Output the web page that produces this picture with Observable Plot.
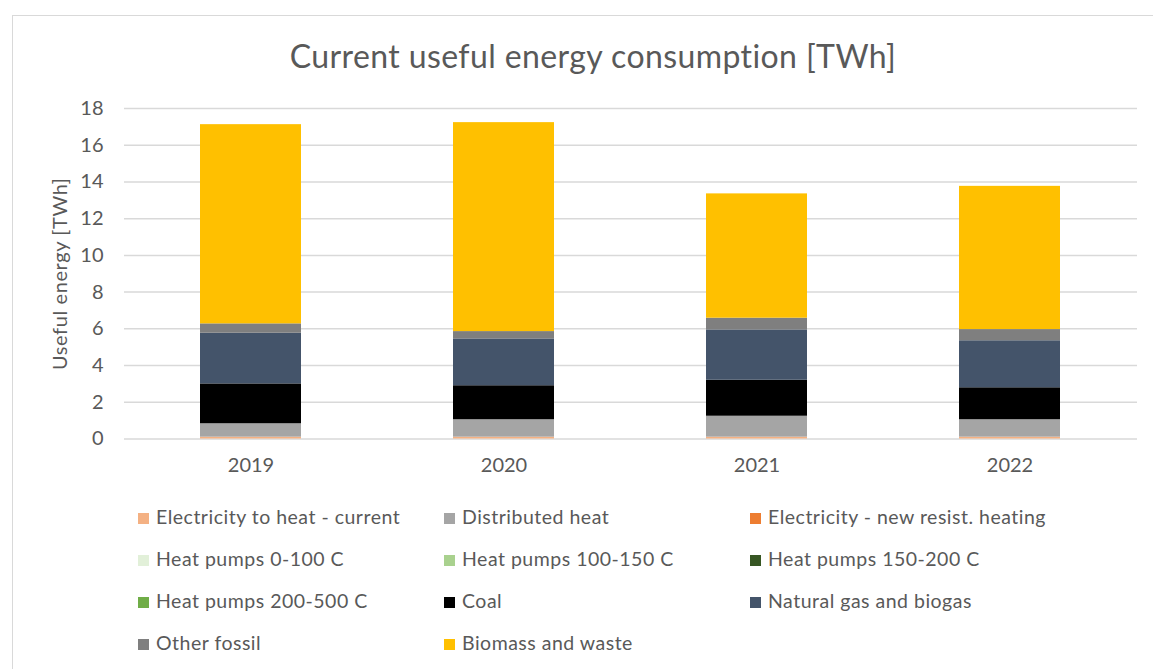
<!DOCTYPE html>
<html>
<head>
<meta charset="utf-8">
<script src="https://cdn.jsdelivr.net/npm/d3@7"></script>
<script src="https://cdn.jsdelivr.net/npm/@observablehq/plot@0.6"></script>
<style>
  html, body { margin: 0; padding: 0; background: #fff; }
  body { width: 1153px; height: 669px; position: relative; overflow: hidden; font-family: Lato, "Open Sans", sans-serif; color: #595959; }
  #frame { position: absolute; left: 12px; top: 15px; width: 1200px; height: 700px; border-left: 1px solid #d9d9d9; border-top: 1px solid #d9d9d9; }
  #title { position: absolute; left: 0; width: 1186px; top: 36px; text-align: center; font-size: 32px; letter-spacing: 0.4px; line-height: 40px; color: #595959; }
  #chart { position: absolute; left: 0; top: 0; }
  .leg { position: absolute; font-size: 19.5px; letter-spacing: 0.5px; line-height: 22px; color: #595959; white-space: nowrap; }
  .sw { position: absolute; width: 11px; height: 11px; }
</style>
</head>
<body>
<div id="frame"></div>
<div id="title">Current useful energy consumption [TWh]</div>
<div id="chart"></div>
<div id="legend"></div>
<script>
const years = ["2019", "2020", "2021", "2022"];
const seriesNames = [
  "Electricity to heat - current",
  "Distributed heat",
  "Electricity - new resist. heating",
  "Heat pumps 0-100 C",
  "Heat pumps 100-150 C",
  "Heat pumps 150-200 C",
  "Heat pumps 200-500 C",
  "Coal",
  "Natural gas and biogas",
  "Other fossil",
  "Biomass and waste"
];
const seriesColors = ["#F4B183", "#A5A5A5", "#ED7D31", "#E2F0D9", "#A9D18E", "#375623", "#70AD47", "#000000", "#44546A", "#7F7F7F", "#FFC000"];

const elecCurrent     = [0.10, 0.10, 0.10, 0.10];
const distributedHeat = [0.73, 0.95, 1.14, 0.95];
const elecNewResist   = [0, 0, 0, 0];
const hp0to100        = [0, 0, 0, 0];
const hp100to150      = [0, 0, 0, 0];
const hp150to200      = [0, 0, 0, 0];
const hp200to500      = [0, 0, 0, 0];
const coal            = [2.17, 1.85, 1.96, 1.74];
const naturalGas      = [2.76, 2.55, 2.74, 2.56];
const otherFossil     = [0.51, 0.40, 0.64, 0.61];
const biomassWaste    = [10.85, 11.38, 6.77, 7.80];

const yTicks = [0, 2, 4, 6, 8, 10, 12, 14, 16, 18];
const yLabel = "Useful energy [TWh]";

const seriesValues = [elecCurrent, distributedHeat, elecNewResist, hp0to100, hp100to150, hp150to200, hp200to500, coal, naturalGas, otherFossil, biomassWaste];
const rows = [];
years.forEach((yr, i) => {
  seriesNames.forEach((name, k) => rows.push({year: yr, series: name, value: seriesValues[k][i]}));
});

const chart = Plot.plot({
  width: 1153,
  height: 490,
  marginLeft: 124,
  marginRight: 16,
  marginTop: 108,
  marginBottom: 51.5,
  style: {fontFamily: "Lato, 'Open Sans', sans-serif", fontSize: "20px", color: "#595959", background: "transparent", overflow: "visible"},
  x: {domain: years, paddingInner: 0.6, paddingOuter: 0.3, label: null},
  y: {domain: [0, 18], label: null},
  color: {domain: seriesNames, range: seriesColors},
  marks: [
    Plot.gridY(yTicks, {stroke: "#d9d9d9", strokeOpacity: 1, strokeWidth: 1.5}),
    Plot.axisY(yTicks, {tickSize: 0, tickPadding: 21, label: null, fontSize: 20}),
    Plot.axisX({tickSize: 0, tickPadding: 19, label: null, fontSize: 20}),
    Plot.text([yLabel], {text: d => d, frameAnchor: "left", rotate: -90, dx: -64, fontSize: 20, fill: "#595959", textAnchor: "middle", lineAnchor: "middle"}),
    Plot.barY(rows, {x: "year", y: "value", fill: "series"})
  ]
});
chart.querySelectorAll("text").forEach(t => { if (t.textContent === yLabel) t.style.letterSpacing = "0.6px"; });
document.getElementById("chart").appendChild(chart);

// legend (3 columns)
const legend = document.getElementById("legend");
const colX = [138, 444, 750];
const rowY = [518, 560, 602, 644];
seriesNames.forEach((name, k) => {
  const c = k % 3, r = Math.floor(k / 3);
  const sw = document.createElement("div");
  sw.className = "sw";
  sw.style.left = colX[c] + "px";
  sw.style.top = (rowY[r] - 5.5) + "px";
  sw.style.background = seriesColors[k];
  legend.appendChild(sw);
  const t = document.createElement("div");
  t.className = "leg";
  t.style.left = (colX[c] + 18) + "px";
  t.style.top = (rowY[r] - 12) + "px";
  t.textContent = name;
  legend.appendChild(t);
});
</script>
</body>
</html>
